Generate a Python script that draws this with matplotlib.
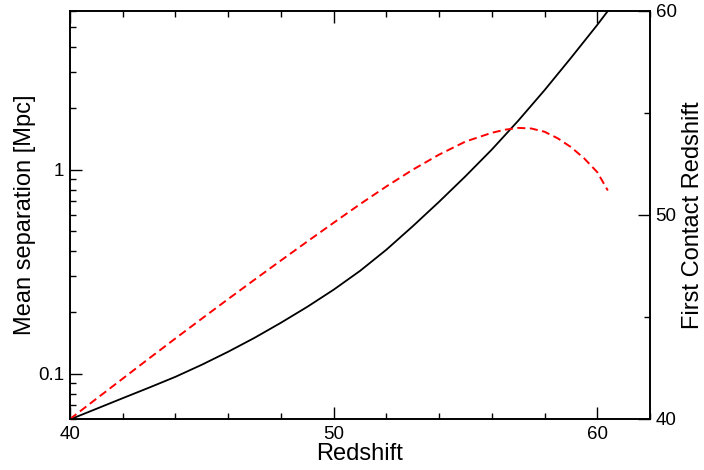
import matplotlib
matplotlib.use("Agg")
import matplotlib.pyplot as plt
from matplotlib.ticker import LogLocator, FixedLocator, NullFormatter, FuncFormatter, MultipleLocator

plt.rcParams['font.family'] = ['Liberation Sans', 'DejaVu Sans']
plt.rcParams['lines.scale_dashes'] = False

# Mean separation [Mpc] vs redshift (left, log axis)
sep_z = [40, 41, 42, 43, 44, 45, 46, 47, 48, 49, 50, 51, 52, 53, 54, 55, 56, 57, 58, 59, 60, 60.4]
sep_val = [0.0597, 0.0673, 0.0759, 0.0855, 0.0966, 0.1107, 0.1282, 0.1500, 0.1778, 0.2128, 0.2582,
           0.3192, 0.4055, 0.5284, 0.6966, 0.9290, 1.256, 1.738, 2.455, 3.532, 5.129, 6.0]

# First contact redshift vs redshift (right axis)
fc_z = [40, 41, 42, 43, 44, 45, 46, 47, 48, 49, 50, 51, 52, 53, 54, 55, 56, 56.5, 57, 57.5,
        58, 58.5, 59, 59.5, 60, 60.4]
fc_val = [40.0, 40.99, 41.98, 42.97, 43.95, 44.92, 45.88, 46.83, 47.77, 48.7, 49.62, 50.53, 51.4,
          52.22, 52.96, 53.6, 54.03, 54.18, 54.27, 54.24, 54.08, 53.76, 53.33, 52.78, 52.1, 51.2]

fig = plt.figure(figsize=(7.04, 4.70), dpi=100)
ax = fig.add_axes([70/704, 1-419/470, 580/704, 408/470])
ax.plot(sep_z, sep_val, color='black', lw=1.3, solid_capstyle='butt')
ax.set_yscale('log')
ax.set_xlim(40, 62)
ax.set_ylim(0.06, 6)
ax.xaxis.set_major_locator(FixedLocator([40, 50, 60]))
ax.xaxis.set_minor_locator(MultipleLocator(2))
ax.yaxis.set_major_locator(FixedLocator([0.1, 1]))
ax.yaxis.set_major_formatter(FuncFormatter(lambda v, p: '0.1' if abs(v-0.1) < 1e-9 else '1'))
ax.yaxis.set_minor_locator(LogLocator(base=10, subs=range(2, 10)))
ax.yaxis.set_minor_formatter(NullFormatter())
ax.tick_params(axis='x', which='both', direction='in', top=True, bottom=True, labelsize=13.5, pad=5)
ax.tick_params(axis='y', which='both', direction='in', left=True, right=False, labelsize=13.5, pad=4)
ax.tick_params(which='major', length=8.5, width=1.0)
ax.tick_params(which='minor', length=4.0, width=1.0)
for s in ax.spines.values():
    s.set_linewidth(1.2)
ax.set_xlabel('Redshift', fontsize=17, labelpad=0)
ax.set_ylabel('Mean separation [Mpc]', fontsize=17, labelpad=2)

ax2 = ax.twinx()
ax2.plot(fc_z, fc_val, color='red', lw=1.4, dashes=(5.8, 3.2))
ax2.set_ylim(40, 60)
ax2.yaxis.set_major_locator(FixedLocator([40, 50, 60]))
ax2.yaxis.set_minor_locator(FixedLocator([45, 55]))
ax2.tick_params(axis='y', which='both', direction='in', labelsize=13.5, pad=4)
ax2.tick_params(which='major', length=8.5, width=1.0)
ax2.tick_params(which='minor', length=4.0, width=1.0)
for s in ax2.spines.values():
    s.set_linewidth(1.2)
ax2.set_ylabel('First Contact Redshift', fontsize=17, labelpad=4)

fig.savefig('out.png', dpi=100)
